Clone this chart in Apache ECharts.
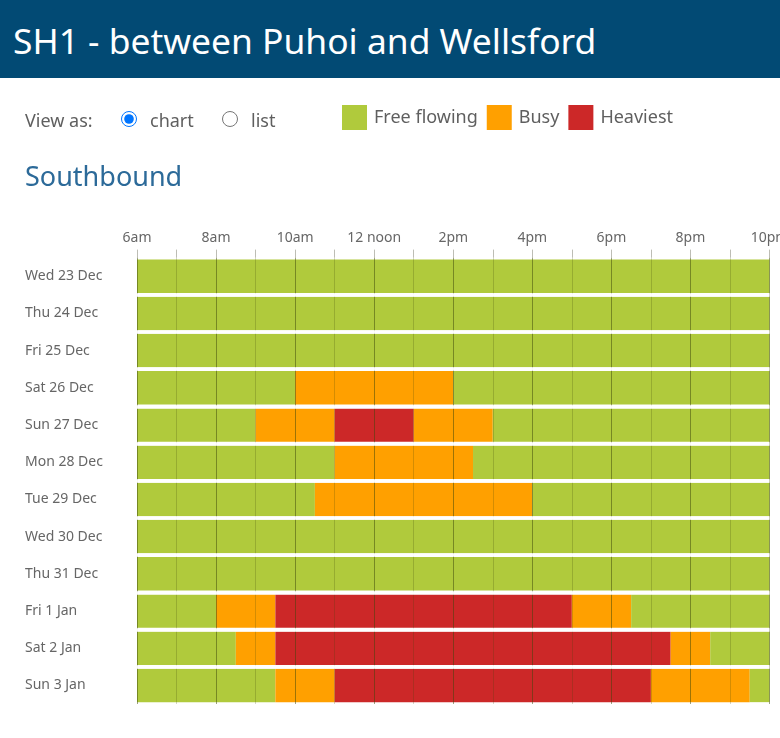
<!DOCTYPE html>
<html>
<head>
<meta charset="utf-8">
<style>
body { margin: 0; background: #fff; font-family: "Noto Sans", sans-serif; color: #5f5f5f; }
#head { position: absolute; left: 0; top: 0; width: 780px; height: 78px; background: #024a74; color: #fff; font-size: 35.4px; line-height: 81px; text-indent: 13px; white-space: nowrap; }
.lbl { position: absolute; font-size: 18px; line-height: 24px; white-space: nowrap; }
input { position: absolute; margin: 0; width: 16px; height: 16px; }
#dir { position: absolute; left: 25px; top: 156px; font-size: 27px; line-height: 40px; color: #2c6a99; }
#container { position: absolute; left: 0; top: 0; width: 780px; height: 738px; }
</style>
</head>
<body>
<div id="container"></div>
<div id="head">SH1 - between Puhoi and Wellsford</div>
<div class="lbl" style="left:25px;top:108px">View as:</div>
<input type="radio" name="view" checked style="left:121px;top:111px">
<div class="lbl" style="left:150px;top:108px">chart</div>
<input type="radio" name="view" style="left:222px;top:111px">
<div class="lbl" style="left:251px;top:108px">list</div>
<div id="dir">Southbound</div>
<script src="https://cdn.jsdelivr.net/npm/echarts@6/dist/echarts.min.js"></script>
<script>
var days = ['Wed 23 Dec', 'Thu 24 Dec', 'Fri 25 Dec', 'Sat 26 Dec', 'Sun 27 Dec', 'Mon 28 Dec',
    'Tue 29 Dec', 'Wed 30 Dec', 'Thu 31 Dec', 'Fri 1 Jan', 'Sat 2 Jan', 'Sun 3 Jan'];
var hourLabels = ['6am', '', '8am', '', '10am', '', '12 noon', '', '2pm', '', '4pm', '', '6pm', '', '8pm', '', '10pm'];

// hours spent in each state, left to right, starting at 6am
var freeBefore = [16, 16, 16, 4, 3, 5, 4.5, 16, 16, 2, 2.5, 3.5];
var busyBefore = [0, 0, 0, 4, 2, 3.5, 5.5, 0, 0, 1.5, 1, 1.5];
var heaviest = [0, 0, 0, 0, 2, 0, 0, 0, 0, 7.5, 10, 8];
var busyAfter = [0, 0, 0, 0, 2, 0, 0, 0, 0, 1.5, 1, 2.5];
var freeAfter = [0, 0, 0, 8, 7, 7.5, 6, 0, 0, 3.5, 1.5, 0.5];

var GREEN = '#b0ca3c', ORANGE = '#ffa000', RED = '#cc2828';

function segment(name, values, color) {
    return {
        name: name,
        type: 'bar',
        stack: 'day',
        data: values,
        barWidth: 33.5,
        itemStyle: { color: color },
        emphasis: { disabled: true }
    };
}

var myChart = echarts.init(document.getElementById('container'));
myChart.setOption({
    animation: false,
    textStyle: { fontFamily: '"Noto Sans", sans-serif' },
    legend: {
        left: 337,
        top: 100,
        itemWidth: 25,
        itemHeight: 25,
        itemGap: 9,
        selectedMode: false,
        data: [
            { name: 'Free flowing', icon: 'rect' },
            { name: 'Busy', icon: 'rect' },
            { name: 'Heaviest', icon: 'rect' }
        ],
        textStyle: { fontSize: 18, color: '#5f5f5f', padding: [3, 0, 0, 2] }
    },
    grid: { left: 137, top: 257.6, width: 632.5, height: 446.4, outerBoundsMode: 'none' },
    xAxis: {
        type: 'value',
        position: 'top',
        min: 0,
        max: 16,
        interval: 1,
        z: 5,
        axisLine: { show: false },
        axisTick: { show: true, length: 8, lineStyle: { color: 'rgba(90,90,70,0.4)' } },
        axisLabel: {
            margin: 13,
            fontSize: 14,
            color: '#666',
            showMaxLabel: true,
            formatter: function (v) { return hourLabels[v]; }
        },
        splitLine: { show: true, lineStyle: { color: ['rgba(60,70,10,0.5)', 'rgba(60,70,10,0.22)'], width: 1 } }
    },
    yAxis: {
        type: 'category',
        inverse: true,
        data: days,
        z: 6,
        axisLine: { show: false },
        axisTick: { show: false },
        axisLabel: { align: 'left', margin: 112, fontSize: 14, color: '#666', padding: [3, 0, 0, 0] },
        splitLine: {
            show: true,
            showMinLine: false,
            showMaxLine: false,
            lineStyle: { color: 'rgba(255,255,255,0.92)', width: 3.7 }
        }
    },
    series: [
        segment('Free flowing', freeBefore, GREEN),
        segment('Busy', busyBefore, ORANGE),
        segment('Heaviest', heaviest, RED),
        segment('Busy', busyAfter, ORANGE),
        segment('Free flowing', freeAfter, GREEN)
    ]
});
</script>
</body>
</html>
